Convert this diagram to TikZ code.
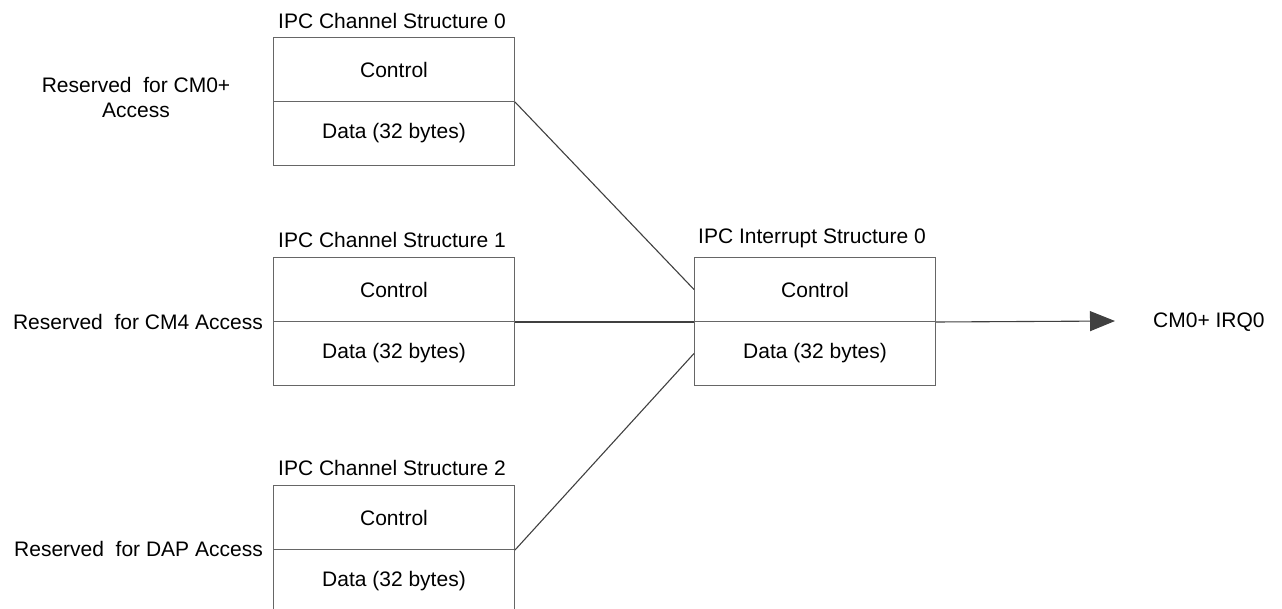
\documentclass[tikz,border=0pt]{standalone}
\usepackage{fontspec}
\setmainfont{Liberation Sans}
\usetikzlibrary{arrows.meta}
\begin{document}
\begin{tikzpicture}[x=1pt,y=-1pt,
  font=\fontsize{21}{25}\selectfont,
  part/.style={draw=black!60,line width=1pt,minimum width=241pt,minimum height=64pt,
    inner sep=0pt,anchor=north west},
  title/.style={anchor=south west,inner sep=0pt},
  link/.style={draw=black!75,line width=1.1pt},
  side/.style={inner sep=0pt,anchor=east,align=center}]
\useasboundingbox (0,0) rectangle (1282,609);
\clip (0,0) rectangle (1282,609);

% channel structure 0
\node[title] (t0) at (278,29) {IPC Channel Structure 0};
\node[part] (c0ctl) at (273,37) {Control};
\node[part] (c0dat) at (273,101) {Data (32 bytes)};

% channel structure 1
\node[title] (t1) at (278,248) {IPC Channel Structure 1};
\node[part] (c1ctl) at (273,257) {Control};
\node[part] (c1dat) at (273,321) {Data (32 bytes)};

% channel structure 2
\node[title] (t2) at (278,476) {IPC Channel Structure 2};
\node[part] (c2ctl) at (273,485) {Control};
\node[part] (c2dat) at (273,549) {Data (32 bytes)};

% interrupt structure 0
\node[title] (ti) at (698,248) {IPC Interrupt Structure 0};
\node[part] (ictl) at (694,257) {Control};
\node[part] (idat) at (694,321) {Data (32 bytes)};

% access owners
\node[side,anchor=center] (r0) at (136,97) {Reserved\ \ for CM0+\\Access};
\node[side] (r1) at (263,322) {Reserved\ \ for CM4 Access};
\node[side] (r2) at (263,549) {Reserved\ \ for DAP Access};

% channel to interrupt connections
\draw[link] (c0ctl.south east) -- (ictl.west);
\draw[link] (c1ctl.south east) -- (ictl.south west);
\draw[link] (c2ctl.south east) -- (idat.west);

% interrupt output
\coordinate (tip) at (1115,321);
\draw[link,-{Triangle[length=25pt,width=20pt]}] (ictl.south east) -- (tip);
\node[anchor=west,inner sep=0pt] (irq) at (1153,322) {CM0+ IRQ0};
\end{tikzpicture}
\end{document}
